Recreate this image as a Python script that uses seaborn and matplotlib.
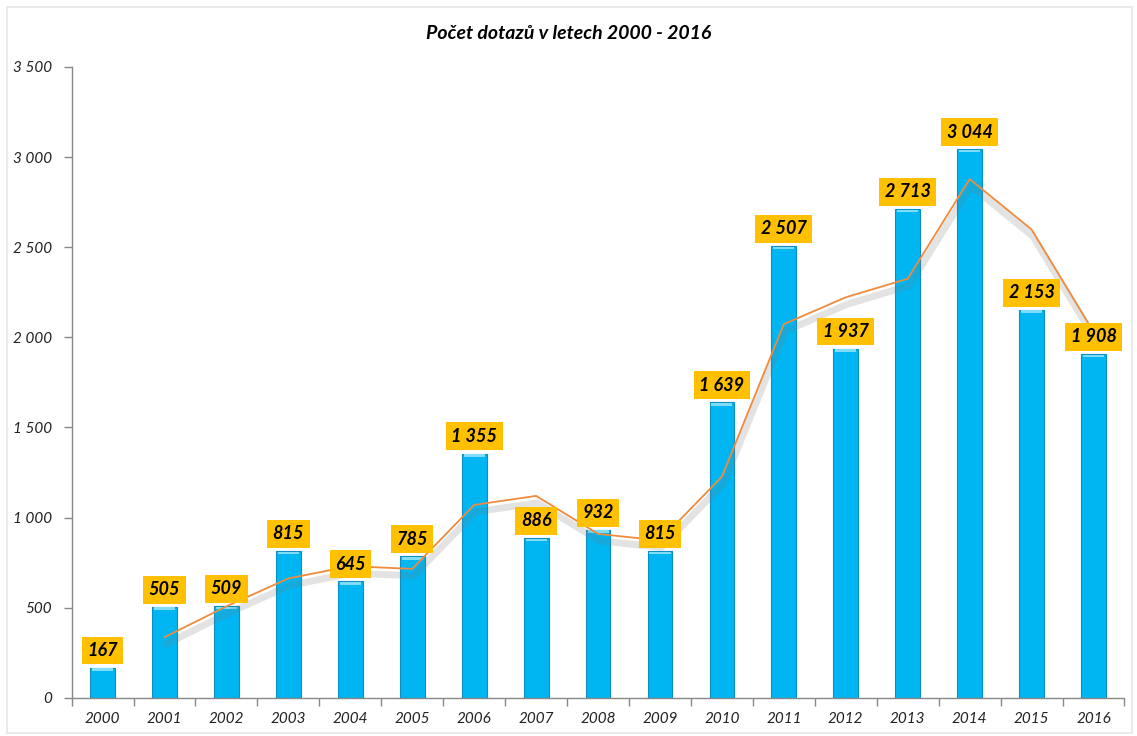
import matplotlib
matplotlib.use("Agg")
import matplotlib.pyplot as plt
import matplotlib.patheffects as pe
from matplotlib.ticker import FuncFormatter, FixedLocator
import seaborn as sns
import pandas as pd

years = [str(y) for y in range(2000, 2017)]
queries = [167, 505, 509, 815, 645, 785, 1355, 886, 932, 815,
           1639, 2507, 1937, 2713, 3044, 2153, 1908]
# trend line (2-year moving average)
trend_years = years[1:]
trend = [336, 507, 662, 730, 715, 1070, 1120, 909, 873,
         1227, 2073, 2222, 2325, 2878, 2598, 2030]

sns.set_theme(style="white")
plt.rcParams['font.family'] = ['Lato', 'DejaVu Sans']

df = pd.DataFrame({'rok': years, 'dotazy': queries})

fig = plt.figure(figsize=(11.37, 7.36), dpi=100)
ax = fig.add_axes([0.063, 0.052, 0.926, 0.857])

sns.barplot(x='rok', y='dotazy', data=df, color='#00B6F2', width=0.4,
            saturation=1, edgecolor='#0A8FC4', linewidth=0.8, ax=ax)

# lighter cap on top of each bar
for p in ax.patches:
    ax.add_patch(plt.Rectangle((p.get_x() + 0.03, p.get_height() - 18),
                               p.get_width() - 0.06, 14, facecolor='#7FDDFA',
                               edgecolor='none', zorder=3))

pos = [years.index(y) for y in trend_years]
ax.plot(pos, trend, color='#F08A3C', linewidth=1.3, zorder=5,
        path_effects=[pe.SimpleLineShadow(offset=(1, -5), shadow_color='#777777',
                                          alpha=0.2, linewidth=5),
                      pe.Normal()])

for i, v in enumerate(queries):
    ax.text(i, v + 95, f"{v:,}".replace(",", " "), ha='center', va='center',
            fontsize=13, fontweight='bold', fontstyle='italic', color='black',
            zorder=6,
            bbox=dict(boxstyle='square,pad=0.3', facecolor='#FFC000',
                      edgecolor='none'))

ax.set_ylim(0, 3500)
ax.set_xlim(-0.5, 16.5)
ax.set_yticks(range(0, 3501, 500))
ax.yaxis.set_major_formatter(FuncFormatter(lambda v, p: f"{int(v):,}".replace(",", " ")))
ax.set_xlabel('')
ax.set_ylabel('')

# Excel-style: tick marks between categories, labels centered
ax.xaxis.set_minor_locator(FixedLocator([i - 0.5 for i in range(18)]))
ax.tick_params(axis='x', which='major', length=0, pad=10)
ax.tick_params(axis='x', which='minor', length=6, color='#888888', width=1,
               direction='out', bottom=True)
ax.tick_params(axis='y', length=6, color='#888888', width=1, direction='out',
               left=True, pad=8)
for lbl in ax.get_xticklabels() + ax.get_yticklabels():
    lbl.set_fontstyle('italic')
    lbl.set_fontsize(11)
    lbl.set_color('#222222')

for s in ['top', 'right']:
    ax.spines[s].set_visible(False)
for s in ['left', 'bottom']:
    ax.spines[s].set_color('#888888')
    ax.spines[s].set_linewidth(1)

fig.text(0.5, 0.955, 'Počet dotazů v letech 2000 - 2016', ha='center', va='center',
         fontsize=14, fontweight='bold', fontstyle='italic', color='black')

fig.patches.append(plt.Rectangle((0.006, 0.004), 0.99, 0.986, transform=fig.transFigure,
                                 fill=False, edgecolor='#E6E6E6', linewidth=1.2))

fig.savefig('out.png', dpi=100)
plt.close(fig)
